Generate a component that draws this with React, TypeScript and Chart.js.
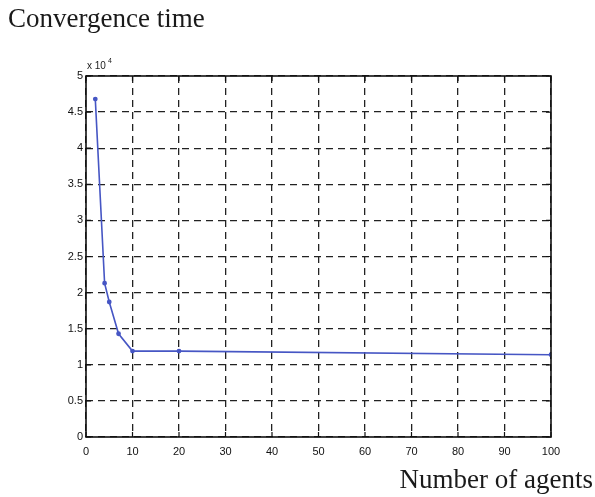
import React, { useEffect, useRef } from "react";
import { Chart, registerables } from "chart.js";

Chart.register(...registerables);

const agents = [2, 4, 5, 7, 10, 20, 100];
const convergenceTime = [46800, 21300, 18700, 14300, 11900, 11900, 11400];
const xTicks = [0, 10, 20, 30, 40, 50, 60, 70, 80, 90, 100];
const yTicks = [0, 5000, 10000, 15000, 20000, 25000, 30000, 35000, 40000, 45000, 50000];
const titleText = "Convergence time";
const xLabelText = "Number of agents";

const W = 595;
const H = 497;
const AREA = { left: 86, right: 551, top: 76, bottom: 437 };

const framePlugin = {
  id: "frame",
  afterDraw(chart: any) {
    const ctx = chart.ctx;
    const { left, right, top, bottom } = chart.chartArea;
    const xs = chart.scales.x;
    const ys = chart.scales.y;
    ctx.save();
    ctx.strokeStyle = "#111";
    ctx.lineWidth = 1.6;
    ctx.strokeRect(left, top, right - left, bottom - top);
    ctx.lineWidth = 1.2;
    ctx.beginPath();
    const t = 5;
    for (const v of xTicks) {
      const px = xs.getPixelForValue(v);
      ctx.moveTo(px, bottom);
      ctx.lineTo(px, bottom - t);
      ctx.moveTo(px, top);
      ctx.lineTo(px, top + t);
    }
    for (const v of yTicks) {
      const py = ys.getPixelForValue(v);
      ctx.moveTo(left, py);
      ctx.lineTo(left + t, py);
      ctx.moveTo(right, py);
      ctx.lineTo(right - t, py);
    }
    ctx.stroke();
    // texts
    ctx.fillStyle = "#1a1a1a";
    ctx.textBaseline = "alphabetic";
    ctx.textAlign = "left";
    ctx.font = "27px 'Liberation Serif', serif";
    ctx.fillText(titleText, 8, 27);
    ctx.textAlign = "right";
    ctx.fillText(xLabelText, 593, 488);
    ctx.textAlign = "left";
    ctx.font = "10px 'Liberation Sans', sans-serif";
    ctx.fillText("x 10", 87, 69);
    ctx.font = "7px 'Liberation Sans', sans-serif";
    ctx.fillText("4", 108, 63);
    ctx.restore();
  },
};

export default function App() {
  const ref = useRef<HTMLCanvasElement | null>(null);
  useEffect(() => {
    if (!ref.current) return;
    const chart = new Chart(ref.current, {
      type: "line",
      data: {
        datasets: [
          {
            data: agents.map((a, i) => ({ x: a, y: convergenceTime[i] })),
            borderColor: "#4656c4",
            backgroundColor: "#4656c4",
            borderWidth: 1.6,
            pointRadius: 1.6,
            pointHoverRadius: 1.6,
            tension: 0,
          },
        ],
      },
      options: {
        animation: false,
        responsive: false,
        devicePixelRatio: 1,
        layout: {
          padding: { left: 0, top: AREA.top, right: W - AREA.right, bottom: 0 },
        },
        plugins: { legend: { display: false }, tooltip: { enabled: false }, title: { display: false } },
        scales: {
          x: {
            type: "linear",
            min: 0,
            max: 100,
            afterBuildTicks: (s: any) => {
              s.ticks = xTicks.map((v) => ({ value: v }));
            },
            afterFit: (s: any) => {
              s.height = H - AREA.bottom;
            },
            ticks: {
              color: "#111",
              padding: 8,
              maxRotation: 0,
              font: { family: "'Liberation Sans', sans-serif", size: 11 },
            },
            grid: { color: "#222", lineWidth: 1.3, drawTicks: false },
            border: { display: false, dash: [7, 5] },
          },
          y: {
            type: "linear",
            min: 0,
            max: 50000,
            afterBuildTicks: (s: any) => {
              s.ticks = yTicks.map((v) => ({ value: v }));
            },
            afterFit: (s: any) => {
              s.width = AREA.left;
            },
            ticks: {
              color: "#111",
              padding: 3,
              font: { family: "'Liberation Sans', sans-serif", size: 11 },
              callback: (v: any) => String(Number(v) / 10000),
            },
            grid: { color: "#222", lineWidth: 1.3, drawTicks: false },
            border: { display: false, dash: [7, 5] },
          },
        },
      },
      plugins: [framePlugin],
    });
    return () => chart.destroy();
  }, []);
  return (
    <div style={{ position: "fixed", left: 0, top: 0, width: W, height: H, background: "#fff" }}>
      <canvas ref={ref} width={W} height={H} style={{ width: W, height: H }} />
    </div>
  );
}
